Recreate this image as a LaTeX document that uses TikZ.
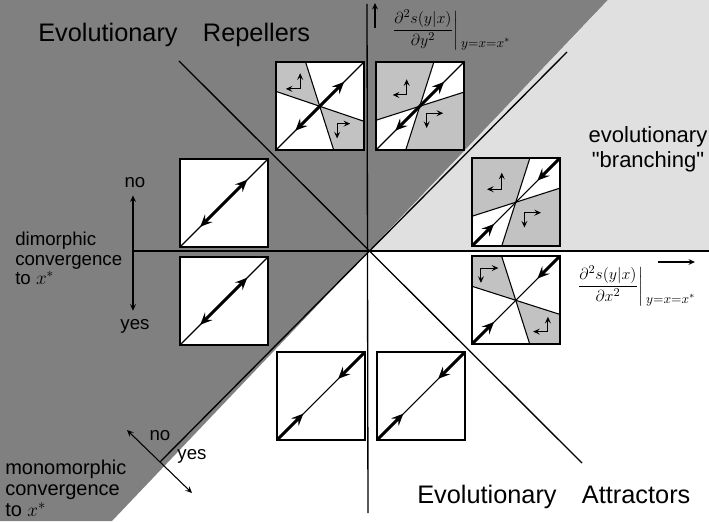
\documentclass[tikz,border=0pt]{standalone}
\usepackage{fontspec}
\setmainfont{Liberation Sans}
\newfontfamily\quotefont{Liberation Sans}
\usepackage{amsmath}
\usetikzlibrary{arrows.meta}
\usetikzlibrary{calc}

\definecolor{darkregion}{gray}{0.5}
\definecolor{lightregion}{gray}{0.88}
\definecolor{boxgray}{gray}{0.76}

\newcommand{\evalat}[1]{\raisebox{-9.5pt}{\fontsize{10}{12}\selectfont$#1$}}

\tikzset{
  bigtip/.tip={Stealth[length=9pt,width=8pt,inset=3.5pt]},
  smalltip/.tip={Stealth[length=5pt,width=4.5pt,inset=2pt]},
  phase/.style={minimum size=65.25pt, inner sep=0pt, fill=white},
  frame/.style={line width=1.4pt},
  axis/.style={line width=1pt},
  diag/.style={line width=0.8pt},
  fat/.style={line width=2.2pt},
  flow/.style={line width=0.7pt, smalltip-smalltip},
  bigtext/.style={font=\fontsize{19}{22}\selectfont, inner sep=0pt},
  sidetext/.style={font=\fontsize{14}{14.5}\selectfont, inner sep=0pt, align=left},
  mathlabel/.style={font=\fontsize{13}{15}\selectfont, inner sep=0pt, anchor=west},
}

\begin{document}
\begin{tikzpicture}[x=0.75pt, y=0.75pt]
    \useasboundingbox (-369,-270) rectangle (340,251);

    % Background regions
    \fill[darkregion] (-369,251) -- (239,251) -- (-257,-270) -- (-369,-270) -- cycle;
    \fill[lightregion] (239,251) -- (340,251) -- (340,0) -- (0,0) -- cycle;

    % Axes
    \coordinate (hstart) at (-236,0);
    \coordinate (hend) at (340,0);
    \coordinate (vtop) at (-2,247);
    \coordinate (vbot) at (-1,-262);
    \draw[axis] (hstart) -- (hend);
    \draw[axis] (vtop) -- (vbot);

    % Diagonals
    \coordinate (dlow) at (-209,-211);
    \coordinate (dhigh) at (198,199);
    \coordinate (alow) at (213,-212);
    \coordinate (ahigh) at (-190,190);
    \draw[axis] (dlow) -- (dhigh);
    \draw[axis] (ahigh) -- (alow);

    % Box A: repeller, gray corners
    \node[phase] (boxA) at (-49,145) {};
    \begin{scope}[shift={(boxA.south west)}, x=65.25pt, y=65.25pt]
      \fill[boxgray] (0,1) -- (0.34,1) -- (0.5,0.5) -- (0,0.67) -- cycle;
      \fill[boxgray] (1,0) -- (0.66,0) -- (0.5,0.5) -- (1,0.33) -- cycle;
      \draw[diag] (0.34,1) -- (0.66,0);
      \draw[diag] (0,0.67) -- (1,0.33);
      \draw[diag] (0,0) -- (1,1);
      \draw[fat, bigtip-bigtip] (0.22,0.22) -- (0.78,0.78);
      \draw[flow] (0.275,0.88) -- (0.275,0.70) -- (0.11,0.70);
      \draw[flow] (0.85,0.30) -- (0.70,0.30) -- (0.70,0.13);
    \end{scope}
    \draw[frame] (boxA.south west) rectangle (boxA.north east);

    % Box B: repeller, white wedges
    \node[phase] (boxB) at (51,145) {};
    \begin{scope}[shift={(boxB.south west)}, x=65.25pt, y=65.25pt]
      \fill[boxgray] (0,0) rectangle (1,1);
      \fill[white] (0.5,0.5) -- (0.66,1) -- (1,1) -- (1,0.66) -- cycle;
      \fill[white] (0.5,0.5) -- (0.34,0) -- (0,0) -- (0,0.34) -- cycle;
      \draw[diag] (0.34,0) -- (0.66,1);
      \draw[diag] (0,0.34) -- (1,0.66);
      \draw[diag] (0,0) -- (1,1);
      \draw[fat, bigtip-bigtip] (0.22,0.22) -- (0.78,0.78);
      \draw[flow] (0.35,0.81) -- (0.35,0.63) -- (0.19,0.63);
      \draw[flow] (0.77,0.42) -- (0.58,0.42) -- (0.58,0.25);
    \end{scope}
    \draw[frame] (boxB.south west) rectangle (boxB.north east);

    % Box C: attractor, white wedges
    \node[phase] (boxC) at (147,49) {};
    \begin{scope}[shift={(boxC.south west)}, x=65.25pt, y=65.25pt]
      \fill[boxgray] (0,0) rectangle (1,1);
      \fill[white] (0.5,0.5) -- (0.66,1) -- (1,1) -- (1,0.66) -- cycle;
      \fill[white] (0.5,0.5) -- (0.34,0) -- (0,0) -- (0,0.34) -- cycle;
      \draw[diag] (0.34,0) -- (0.66,1);
      \draw[diag] (0,0.34) -- (1,0.66);
      \draw[diag] (0,0) -- (1,1);
      \draw[fat, -bigtip] (0,0) -- (0.25,0.25);
      \draw[fat, -bigtip] (1,1) -- (0.75,0.75);
      \draw[flow] (0.34,0.84) -- (0.34,0.65) -- (0.17,0.65);
      \draw[flow] (0.79,0.38) -- (0.60,0.38) -- (0.60,0.21);
    \end{scope}
    \draw[frame] (boxC.south west) rectangle (boxC.north east);

    % Box D: attractor, gray corners
    \node[phase] (boxD) at (147,-49) {};
    \begin{scope}[shift={(boxD.south west)}, x=65.25pt, y=65.25pt]
      \fill[boxgray] (0,1) -- (0.34,1) -- (0.5,0.5) -- (0,0.66) -- cycle;
      \fill[boxgray] (1,0) -- (0.66,0) -- (0.5,0.5) -- (1,0.34) -- cycle;
      \draw[diag] (0.34,1) -- (0.66,0);
      \draw[diag] (0,0.66) -- (1,0.34);
      \draw[diag] (0,0) -- (1,1);
      \draw[fat, -bigtip] (0,0) -- (0.25,0.25);
      \draw[fat, -bigtip] (1,1) -- (0.75,0.75);
      \draw[flow] (0.30,0.87) -- (0.10,0.87) -- (0.10,0.70);
      \draw[flow] (0.87,0.31) -- (0.87,0.14) -- (0.70,0.14);
    \end{scope}
    \draw[frame] (boxD.south west) rectangle (boxD.north east);

    % Boxes E, F: dimorphic repellers
    \node[phase] (boxE) at (-145,48) {};
    \node[phase] (boxF) at (-145,-50) {};
    \foreach \b in {boxE, boxF} {
      \begin{scope}[shift={(\b.south west)}, x=65.25pt, y=65.25pt]
        \draw[diag] (0,0) -- (1,1);
        \draw[fat, bigtip-bigtip] (0.23,0.23) -- (0.77,0.77);
      \end{scope}
      \draw[frame] (\b.south west) rectangle (\b.north east);
    }

    % Boxes G, H: attractors
    \node[phase] (boxG) at (-48,-145) {};
    \node[phase] (boxH) at (52,-145) {};
    \foreach \b in {boxG, boxH} {
      \begin{scope}[shift={(\b.south west)}, x=65.25pt, y=65.25pt]
        \draw[diag] (0,0) -- (1,1);
        \draw[fat, -bigtip] (0,0) -- (0.30,0.30);
        \draw[fat, -bigtip] (1,1) -- (0.70,0.70);
      \end{scope}
      \draw[frame] (\b.south west) rectangle (\b.north east);
    }

    % Axis labels
    \coordinate (ytail) at (6,223);
    \coordinate (yhead) at (6,248);
    \draw[axis, -smalltip] (ytail) -- (yhead);
    \node[mathlabel] (ylabel) at (22,221)
      {$\left.\dfrac{\partial^2 s(y|x)}{\partial y^2}\right|\evalat{y{=}x{=}x^*}$};
    \coordinate (xtail) at (289,-11);
    \coordinate (xhead) at (326,-11);
    \draw[axis, -smalltip] (xtail) -- (xhead);
    \node[mathlabel] (xlabel) at (207,-35)
      {$\left.\dfrac{\partial^2 s(y|x)}{\partial x^2}\right|\evalat{y{=}x{=}x^*}$};

    % Region titles
    \node[bigtext, anchor=base west] (repellers) at (-331,209) {Evolutionary\quad Repellers};
    \node[bigtext, anchor=base west] (attractors) at (48,-252) {Evolutionary\quad Attractors};
    \node[font=\fontsize{16.5}{19}\selectfont, inner sep=0pt, align=center] (branching)
      at (279,102) {evolutionary\\{\quotefont"}branching{\quotefont"}};

    % Dimorphic convergence
    \node[sidetext, anchor=north west] (dimo) at (-354,19) {dimorphic\\convergence\\to $x^*$};
    \node[sidetext, anchor=base] (dno) at (-234,64) {no};
    \node[sidetext, anchor=base] (dyes) at (-234,-78) {yes};
    \draw[diag, smalltip-smalltip] ($(dno.south)+(-2,-8)$) -- ($(dyes.north)+(-2,8)$);

    % Monomorphic convergence
    \node[sidetext, anchor=north west, font=\fontsize{15}{15.5}\selectfont] (mono) at (-364,-209)
      {monomorphic\\convergence\\to $x^*$};
    \node[sidetext, anchor=base] (mno) at (-209,-189) {no};
    \node[sidetext, anchor=base] (myes) at (-177,-208) {yes};
    \coordinate (mtop) at (-242,-179);
    \coordinate (mbot) at (-177,-242);
    \draw[diag, smalltip-smalltip] (mtop) -- (mbot);
\end{tikzpicture}
\end{document}
